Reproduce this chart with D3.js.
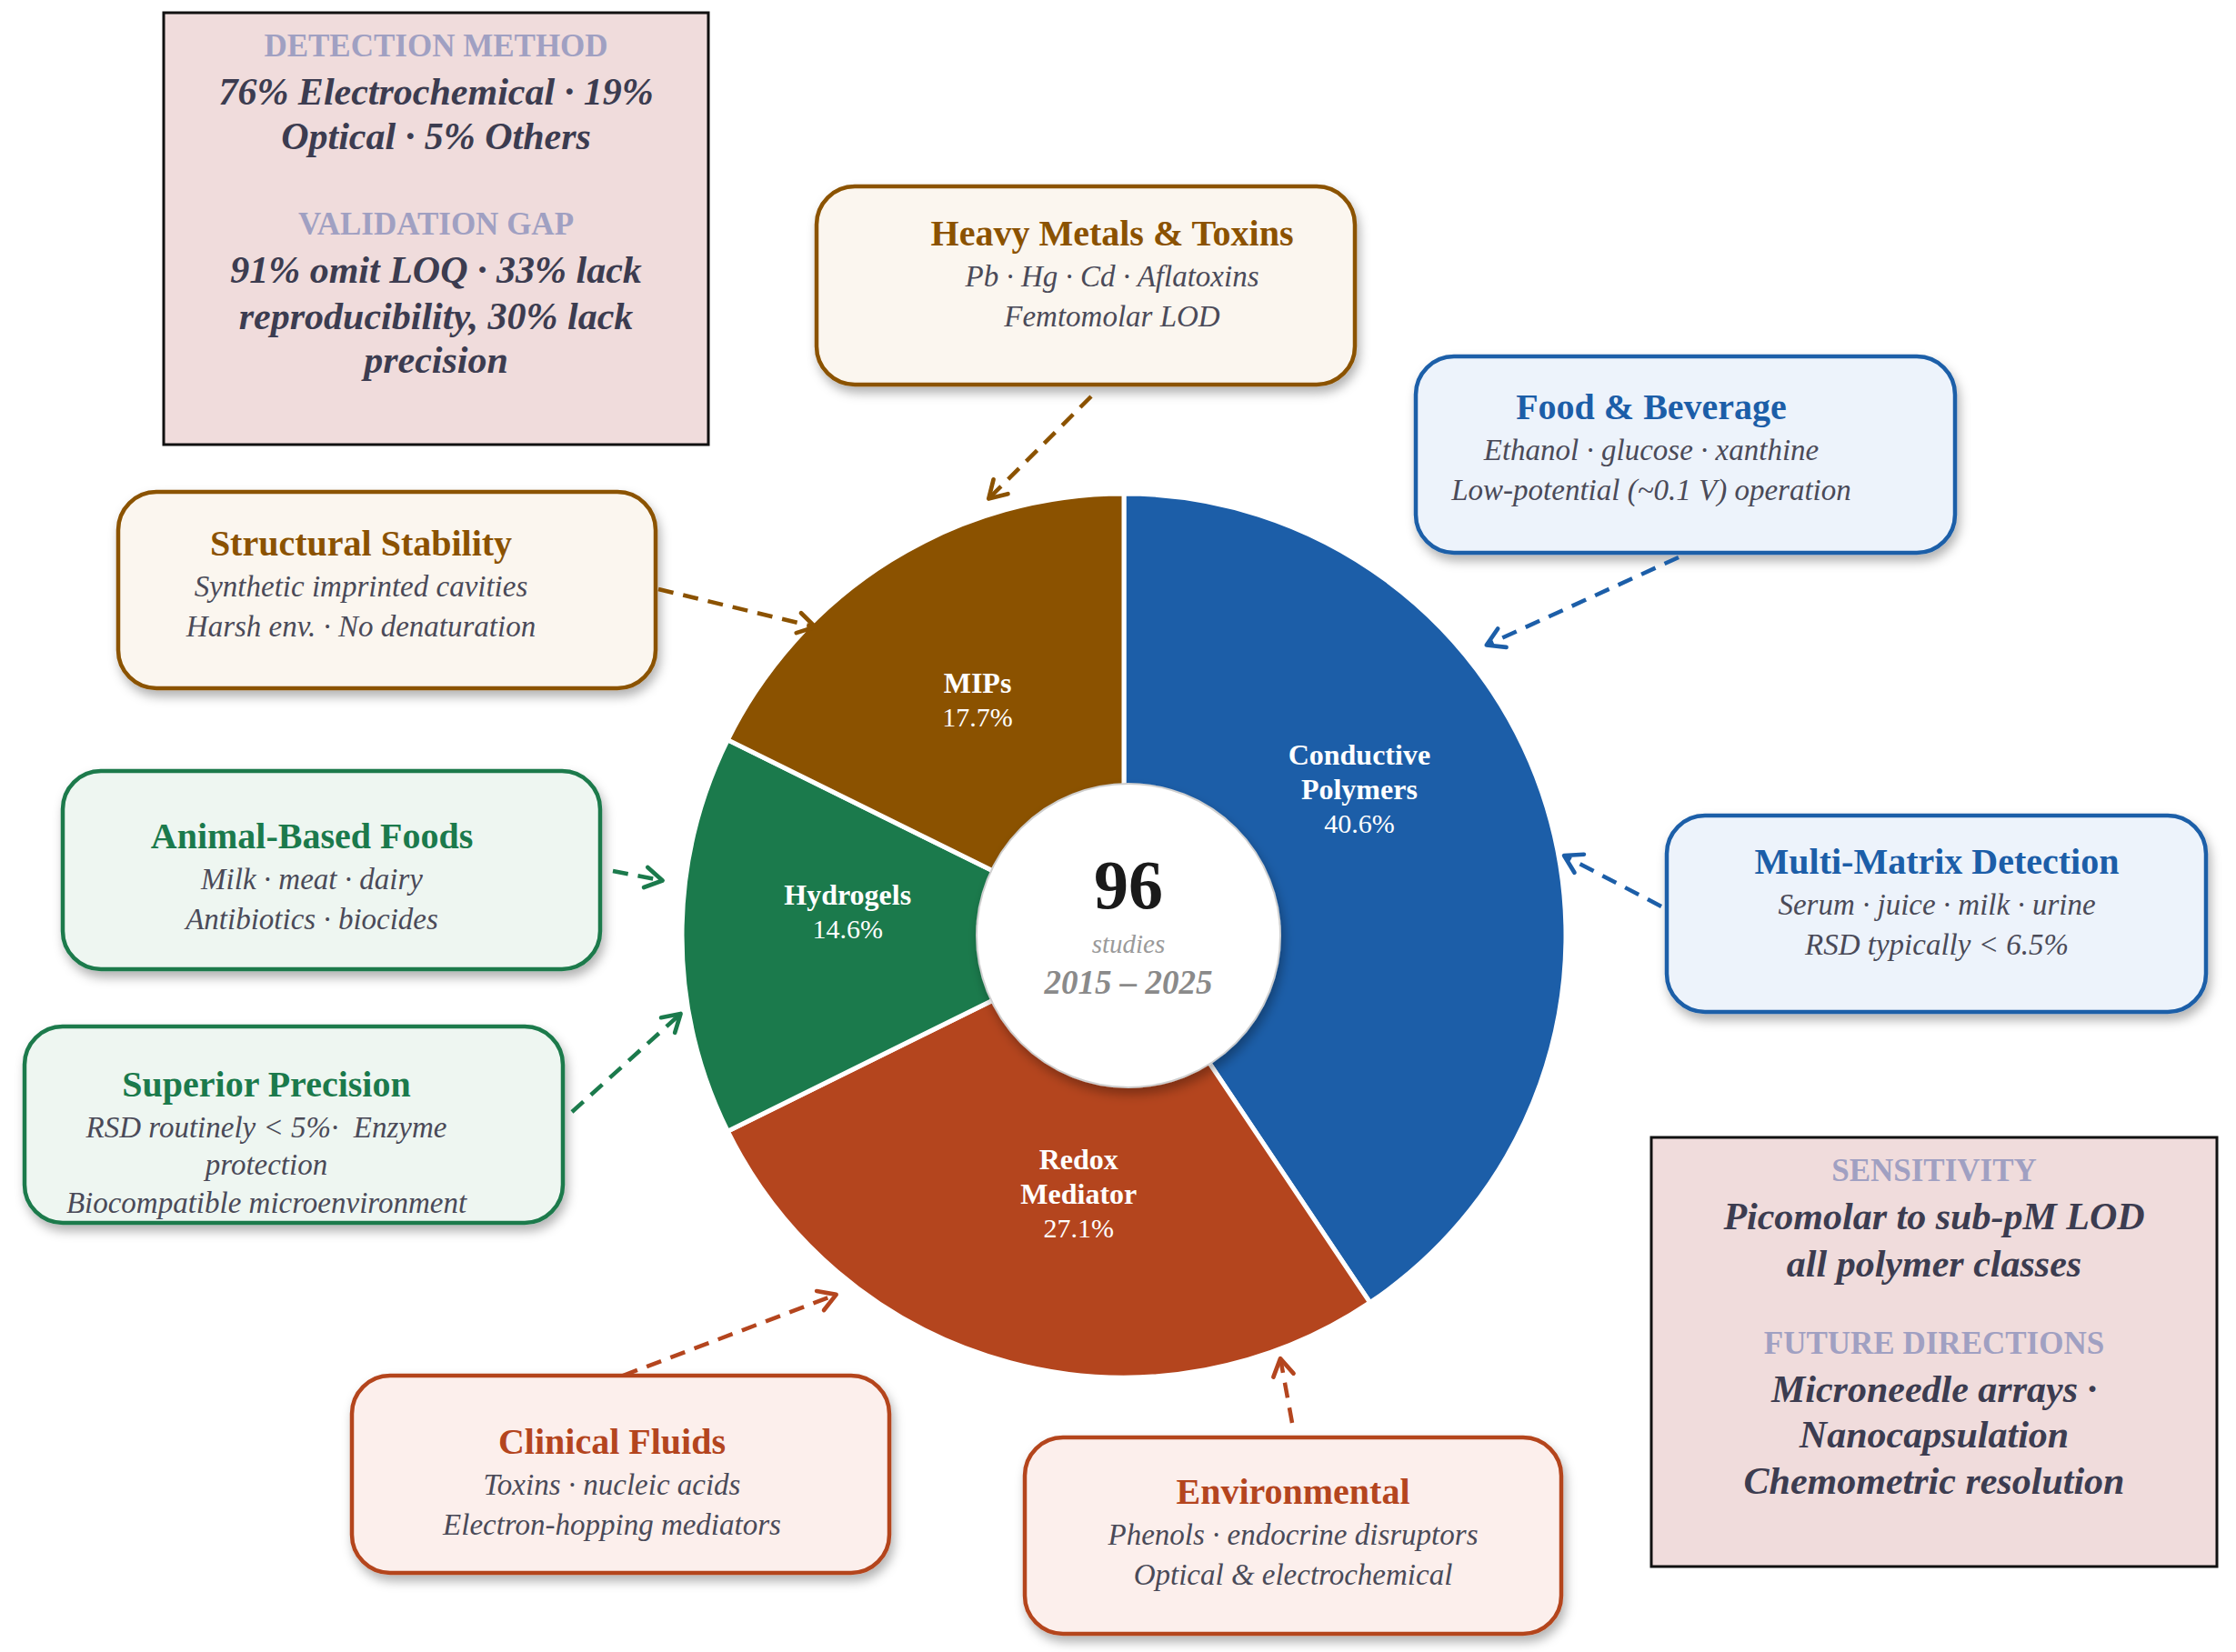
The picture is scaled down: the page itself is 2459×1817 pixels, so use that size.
<!DOCTYPE html>
<html>
<head>
<meta charset="utf-8">
<script src="https://cdn.jsdelivr.net/npm/d3@7"></script>
<style>
  body { margin: 0; background: #fff; }
  svg { display: block; font-family: "Palatino Linotype", "Book Antiqua", Palatino, "Liberation Serif", serif; }
</style>
</head>
<body>
<div id="chart"></div>
<script>
// polymer classes, clockwise from 12 o'clock
const categories = ["Conductive Polymers", "Redox Mediator", "Hydrogels", "MIPs"];
const shares = [40.6, 27.1, 14.6, 17.7];
const colors = ["#1c5ea8", "#b4451e", "#1b7a4c", "#8b5200"];
const tints = ["#edf3fb", "#fcefec", "#eef6f1", "#fbf6ef"];

const totalStudies = "96";
const centerNote = "studies";
const period = "2015 – 2025";

// callouts around the ring (class = index into categories)
const calloutTitles = [
  "Heavy Metals & Toxins", "Food & Beverage", "Structural Stability", "Animal-Based Foods",
  "Superior Precision", "Multi-Matrix Detection", "Clinical Fluids", "Environmental"
];
const calloutLines = [
  ["Pb · Hg · Cd · Aflatoxins", "Femtomolar LOD"],
  ["Ethanol · glucose · xanthine", "Low-potential (~0.1 V) operation"],
  ["Synthetic imprinted cavities", "Harsh env. · No denaturation"],
  ["Milk · meat · dairy", "Antibiotics · biocides"],
  ["RSD routinely < 5%·  Enzyme", "protection", "Biocompatible microenvironment"],
  ["Serum · juice · milk · urine", "RSD typically < 6.5%"],
  ["Toxins · nucleic acids", "Electron-hopping mediators"],
  ["Phenols · endocrine disruptors", "Optical & electrochemical"]
];
const calloutClass = [3, 0, 3, 2, 2, 0, 1, 1];

// summary boxes
const detectionHead = "DETECTION METHOD";
const detectionLines = ["76% Electrochemical · 19%", "Optical · 5% Others"];
const validationHead = "VALIDATION GAP";
const validationLines = ["91% omit LOQ · 33% lack", "reproducibility, 30% lack", "precision"];
const sensitivityHead = "SENSITIVITY";
const sensitivityLines = ["Picomolar to sub-pM LOD", "all polymer classes"];
const futureHead = "FUTURE DIRECTIONS";
const futureLines = ["Microneedle arrays ·", "Nanocapsulation", "Chemometric resolution"];

const W = 2459, H = 1817;
const cx = 1236, cy = 1029, outerR = 486, innerR = 167;

const svg = d3.select("#chart").append("svg")
  .attr("width", W).attr("height", H)
  .attr("viewBox", `0 0 ${W} ${H}`);

svg.append("rect").attr("width", W).attr("height", H).attr("fill", "#fff");

const defs = svg.append("defs");
const shadow = defs.append("filter").attr("id", "shadow")
  .attr("x", "-10%").attr("y", "-10%").attr("width", "130%").attr("height", "140%");
shadow.append("feDropShadow")
  .attr("dx", 3).attr("dy", 7).attr("stdDeviation", 6)
  .attr("flood-color", "#000").attr("flood-opacity", 0.3);

colors.forEach((c, i) => {
  defs.append("marker")
    .attr("id", "head" + i)
    .attr("viewBox", "0 0 16 16")
    .attr("refX", 13).attr("refY", 8)
    .attr("markerWidth", 30).attr("markerHeight", 30)
    .attr("markerUnits", "userSpaceOnUse")
    .attr("orient", "auto")
    .append("path")
    .attr("d", "M3,2 L13,8 L3,14")
    .attr("fill", "none").attr("stroke", c)
    .attr("stroke-width", 2.5).attr("stroke-linecap", "round").attr("stroke-linejoin", "round");
});

// ---- donut ----
const data = categories.map((c, i) => ({ name: c, value: shares[i], color: colors[i] }));
const pie = d3.pie().sort(null).value(d => d.value);
const arcs = pie(data);
const arc = d3.arc().innerRadius(0).outerRadius(outerR);

const ring = svg.append("g").attr("transform", `translate(${cx},${cy})`);
ring.selectAll("path.slice").data(arcs).join("path")
  .attr("class", "slice")
  .attr("d", arc)
  .attr("fill", d => d.data.color)
  .attr("stroke", "#fff").attr("stroke-width", 5).attr("stroke-linejoin", "round");

ring.append("circle").attr("cx", 5).attr("r", innerR)
  .attr("fill", "#fff").attr("stroke", "#cfcfcf").attr("stroke-width", 2)
  .attr("filter", "url(#shadow)");

ring.append("text").attr("x", 5).attr("y", -57).attr("dy", "0.35em")
  .attr("text-anchor", "middle").attr("font-size", 76).attr("font-weight", "bold")
  .attr("fill", "#1a1a1a").text(totalStudies);
ring.append("text").attr("x", 5).attr("y", 9).attr("dy", "0.35em")
  .attr("text-anchor", "middle").attr("font-size", 29).attr("font-style", "italic")
  .attr("fill", "#9a9a9a").text(centerNote);
ring.append("text").attr("x", 5).attr("y", 51).attr("dy", "0.35em")
  .attr("text-anchor", "middle").attr("font-size", 37).attr("font-weight", "bold")
  .attr("font-style", "italic").attr("fill", "#8a8a8a").text(period);

// slice labels: [angle shift in degrees, radius]
const labelPlace = {
  "Conductive Polymers": [-15, 305],
  "Redox Mediator": [-5, 288],
  "Hydrogels": [5, 305],
  "MIPs": [0, 305]
};
const lineH = 38;
arcs.forEach(d => {
  const p = labelPlace[d.data.name];
  const a = (d.startAngle + d.endAngle) / 2 + p[0] * Math.PI / 180;
  const [x, y] = d3.pointRadial(a, p[1]);
  const words = d.data.name.split(" ");
  const lines = words.map(w => ({ t: w, bold: true })).concat([{ t: d.data.value.toFixed(1) + "%", bold: false }]);
  const y0 = y - (lines.length - 1) * lineH / 2;
  const t = ring.append("text").attr("text-anchor", "middle").attr("fill", "#fff");
  lines.forEach((l, k) => {
    t.append("tspan").attr("x", x).attr("y", y0 + k * lineH).attr("dy", "0.35em")
      .attr("font-size", l.bold ? 32 : 30)
      .attr("font-weight", l.bold ? "bold" : "normal")
      .text(l.t);
  });
});

// ---- callouts ----
// box [x, y, w, h], text centre x, title/line ys, arrow start, arrow tip (deg, radius)
const calloutLayout = [
  { box: [898, 205, 592, 218], tx: 1223, ty: [256, 303, 347], from: [1200, 436], to: [342.8, 503] },
  { box: [1557, 392, 593, 216], tx: 1816, ty: [447, 494, 538], from: [1846, 613], to: [51.3, 511] },
  { box: [130, 541, 591, 216], tx: 397, ty: [597, 644, 688], from: [724, 648], to: [315, 480] },
  { box: [69, 848, 591, 218], tx: 343, ty: [919, 966, 1010], from: [674, 958], to: [276.8, 511] },
  { box: [27, 1129, 592, 216], tx: 293, ty: [1192, 1239, 1280, 1322], from: [629, 1223], to: [260, 495] },
  { box: [1833, 897, 593, 216], tx: 2130, ty: [947, 994, 1038], from: [1827, 997], to: [79.7, 492] },
  { box: [387, 1513, 591, 217], tx: 673, ty: [1585, 1632, 1676], from: [685, 1513], to: [218.7, 506] },
  { box: [1127, 1581, 590, 216], tx: 1422, ty: [1640, 1687, 1731], from: [1421, 1565], to: [159.7, 496] }
];

const calloutG = svg.append("g");
calloutTitles.forEach((title, i) => {
  const L = calloutLayout[i];
  const ci = calloutClass[i];
  const g = calloutG.append("g");
  g.append("rect")
    .attr("x", L.box[0]).attr("y", L.box[1])
    .attr("width", L.box[2]).attr("height", L.box[3])
    .attr("rx", 42).attr("ry", 42)
    .attr("fill", tints[ci]).attr("stroke", colors[ci]).attr("stroke-width", 4.5)
    .attr("filter", "url(#shadow)");
  g.append("text").attr("x", L.tx).attr("y", L.ty[0]).attr("dy", "0.35em")
    .attr("text-anchor", "middle").attr("font-size", 40).attr("font-weight", "bold")
    .attr("fill", colors[ci]).text(title);
  calloutLines[i].forEach((line, k) => {
    g.append("text").attr("x", L.tx).attr("y", L.ty[k + 1]).attr("dy", "0.35em")
      .attr("text-anchor", "middle").attr("font-size", 33).attr("font-style", "italic")
      .attr("fill", "#4a4a58").style("white-space", "pre").text(line);
  });
});

// arrows (drawn above boxes)
const arrowG = svg.append("g");
calloutLayout.forEach((L, i) => {
  const ci = calloutClass[i];
  const [tx, ty] = d3.pointRadial(L.to[0] * Math.PI / 180, L.to[1]);
  arrowG.append("line")
    .attr("x1", L.from[0]).attr("y1", L.from[1])
    .attr("x2", cx + tx).attr("y2", cy + ty)
    .attr("stroke", colors[ci]).attr("stroke-width", 4.5)
    .attr("stroke-dasharray", "17,11")
    .attr("marker-end", `url(#head${ci})`);
});

// ---- summary boxes ----
function infoBox(x, y, w, h, blocks) {
  const g = svg.append("g");
  g.append("rect").attr("x", x).attr("y", y).attr("width", w).attr("height", h)
    .attr("fill", "#f0dcdc").attr("stroke", "#111").attr("stroke-width", 3);
  const mid = x + w / 2;
  blocks.forEach(b => {
    g.append("text").attr("x", mid).attr("y", b.head[1]).attr("dy", "0.35em")
      .attr("text-anchor", "middle").attr("font-size", 35).attr("font-weight", "bold")
      .attr("fill", "#a0a0c2").text(b.head[0]);
    b.lines.forEach((l, k) => {
      g.append("text").attr("x", mid).attr("y", b.ys[k]).attr("dy", "0.35em")
        .attr("text-anchor", "middle").attr("font-size", 42)
        .attr("font-weight", "bold").attr("font-style", "italic")
        .attr("fill", "#3c3c50").text(l);
    });
  });
}

infoBox(180, 14, 599, 475, [
  { head: [detectionHead, 50], lines: detectionLines, ys: [100, 149] },
  { head: [validationHead, 246], lines: validationLines, ys: [296, 347, 395] }
]);
infoBox(1816, 1251, 622, 472, [
  { head: [sensitivityHead, 1287], lines: sensitivityLines, ys: [1337, 1389] },
  { head: [futureHead, 1477], lines: futureLines, ys: [1527, 1577, 1628] }
]);
</script>
</body>
</html>
